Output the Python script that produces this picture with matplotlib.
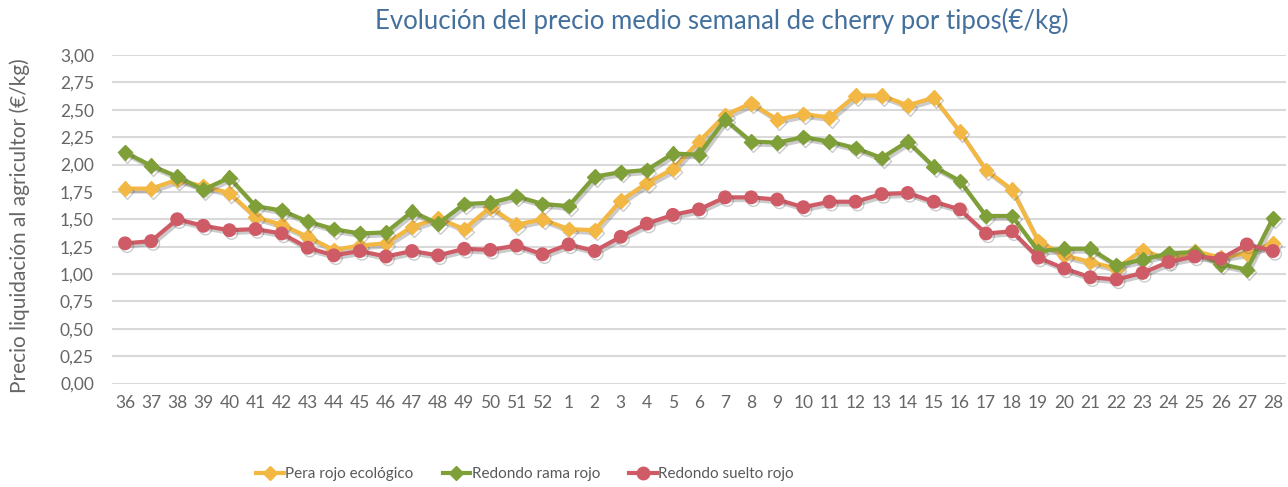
import matplotlib
matplotlib.use("Agg")
import matplotlib.pyplot as plt
import matplotlib.patheffects as pe
import numpy as np

weeks = ["36", "37", "38", "39", "40", "41", "42", "43", "44", "45", "46", "47", "48", "49",
         "50", "51", "52", "1", "2", "3", "4", "5", "6", "7", "8", "9", "10", "11", "12", "13",
         "14", "15", "16", "17", "18", "19", "20", "21", "22", "23", "24", "25", "26", "27", "28"]

pera_eco = [1.78, 1.78, 1.86, 1.80, 1.74, 1.52, 1.45, 1.34, 1.22, 1.26, 1.28, 1.43, 1.51, 1.41,
            1.61, 1.45, 1.50, 1.41, 1.40, 1.67, 1.83, 1.96, 2.21, 2.45, 2.56, 2.41, 2.46, 2.43,
            2.63, 2.63, 2.54, 2.61, 2.30, 1.95, 1.77, 1.30, 1.17, 1.11, 1.05, 1.22, 1.13, 1.21,
            1.15, 1.19, 1.28]

redondo_rama = [2.11, 1.99, 1.89, 1.77, 1.88, 1.62, 1.58, 1.48, 1.41, 1.37, 1.38, 1.57, 1.46,
                1.64, 1.65, 1.71, 1.64, 1.62, 1.89, 1.93, 1.95, 2.10, 2.09, 2.41, 2.21, 2.20,
                2.25, 2.21, 2.15, 2.06, 2.21, 1.98, 1.85, 1.53, 1.53, 1.21, 1.23, 1.23, 1.08,
                1.13, 1.19, 1.20, 1.09, 1.04, 1.51]

redondo_suelto = [1.28, 1.30, 1.50, 1.44, 1.40, 1.41, 1.37, 1.24, 1.17, 1.21, 1.16, 1.21, 1.17,
                  1.23, 1.22, 1.26, 1.18, 1.27, 1.21, 1.34, 1.46, 1.54, 1.59, 1.70, 1.70, 1.68,
                  1.61, 1.66, 1.66, 1.73, 1.74, 1.66, 1.59, 1.37, 1.39, 1.15, 1.05, 0.97, 0.95,
                  1.01, 1.11, 1.16, 1.14, 1.27, 1.21]

series_names = ["Pera rojo ecológico", "Redondo rama rojo", "Redondo suelto rojo"]
colors = ["#F3B843", "#7F9F38", "#CF5B66"]
markers = ["D", "D", "o"]
msizes = [7.5, 7.5, 9]

plt.rcParams['font.family'] = ['Lato', 'DejaVu Sans']

fig = plt.figure(figsize=(12.88, 4.87), dpi=100)
ax = fig.add_axes([112/1288, 1-383.5/487, (1286-112)/1288, (383.5-55)/487])

x = np.arange(len(weeks))
shadow = [pe.SimpleLineShadow(offset=(1.5, -2), alpha=0.3, shadow_color="#555555"), pe.Normal()]
for vals, name, c, m, ms in zip([pera_eco, redondo_rama, redondo_suelto], series_names, colors, markers, msizes):
    ax.plot(x, vals, color=c, lw=3, marker=m, markersize=ms, markeredgecolor=c,
            label=name, path_effects=shadow, zorder=3)

ax.set_xlim(-0.5, len(weeks) - 0.5)
ax.set_ylim(0, 3)
yt = np.arange(0, 3.01, 0.25)
ax.set_yticks(yt)
ax.set_yticklabels([f"{v:.2f}".replace(".", ",") for v in yt])
ax.set_xticks(x)
ax.set_xticklabels(weeks)
ax.tick_params(axis='both', length=0, labelsize=12.5, colors="#666666")
ax.tick_params(axis='x', pad=8)
ax.tick_params(axis='y', pad=13)
ax.grid(axis='y', color="#D9D9D9", lw=1.5)
ax.set_axisbelow(True)
for s in ax.spines.values():
    s.set_visible(False)

fig.text(722/1288, 1-21/487, "Evolución del precio medio semanal de cherry por tipos(€/kg)",
         ha='center', va='center', fontsize=18.5, color="#44709D")
fig.text(20/1288, 1-226/487, "Precio liquidación al agricultor (€/kg)", rotation=90,
         ha='center', va='center', fontsize=15, color="#666666")

leg = fig.legend(loc='center', bbox_to_anchor=(525/1288, 1-474/487), ncol=3, frameon=False,
                 fontsize=11, handlelength=1.8, handletextpad=0.1, columnspacing=1.9,
                 labelcolor="#595959")
for h in leg.legend_handles:
    h.set_path_effects([])

fig.savefig("out.png", dpi=100)
